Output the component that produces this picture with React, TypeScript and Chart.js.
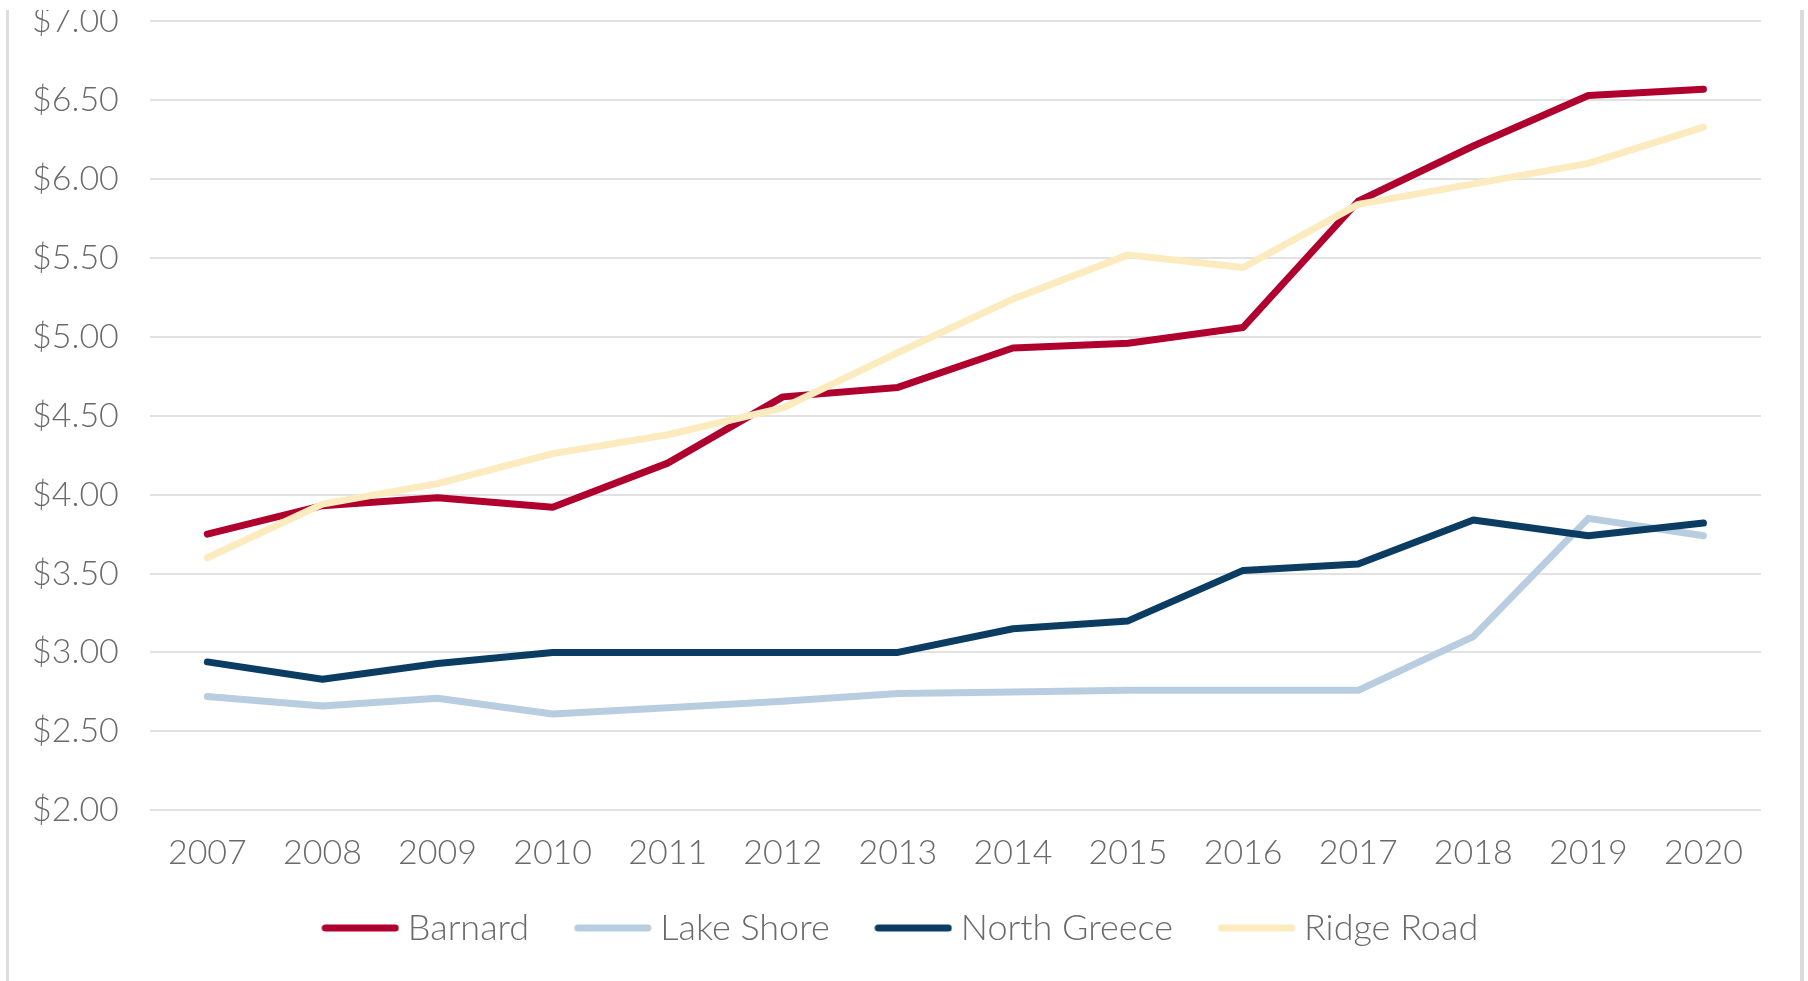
import React, { useEffect, useRef } from "react";
import { Chart, registerables } from "chart.js";

Chart.register(...registerables);

const years = ["2007", "2008", "2009", "2010", "2011", "2012", "2013", "2014", "2015", "2016", "2017", "2018", "2019", "2020"];
const barnard = [3.75, 3.93, 3.98, 3.92, 4.2, 4.62, 4.68, 4.93, 4.96, 5.06, 5.86, 6.21, 6.53, 6.57];
const lakeShore = [2.72, 2.66, 2.71, 2.61, 2.65, 2.69, 2.74, 2.75, 2.76, 2.76, 2.76, 3.1, 3.85, 3.74];
const northGreece = [2.94, 2.83, 2.93, 3.0, 3.0, 3.0, 3.0, 3.15, 3.2, 3.52, 3.56, 3.84, 3.74, 3.82];
const ridgeRoad = [3.6, 3.94, 4.07, 4.26, 4.38, 4.55, 4.9, 5.24, 5.52, 5.44, 5.84, 5.97, 6.1, 6.33];

const seriesNames = ["Barnard", "Lake Shore", "North Greece", "Ridge Road"];
const seriesColors = ["#B0002E", "#B9CDE1", "#0B3C62", "#FCEBBE"];
const seriesValues = [barnard, lakeShore, northGreece, ridgeRoad];

const TEXT = "#6a6a6a";
const FONT = "Lato";
const LEGEND_GAP = "\u00a0\u00a0\u00a0\u00a0";

function makeSample(color: string) {
  const c = document.createElement("canvas");
  c.width = 78;
  c.height = 8;
  const ctx = c.getContext("2d")!;
  ctx.strokeStyle = color;
  ctx.lineWidth = 7;
  ctx.lineCap = "round";
  ctx.beginPath();
  ctx.moveTo(4, 4);
  ctx.lineTo(74, 4);
  ctx.stroke();
  return c;
}

export default function App() {
  const ref = useRef<HTMLCanvasElement | null>(null);

  useEffect(() => {
    if (!ref.current) return;
    const samples = seriesColors.map(makeSample);
    const chart = new Chart(ref.current, {
      type: "line",
      data: {
        labels: years,
        datasets: seriesNames.map((name, i) => ({
          label: name,
          data: seriesValues[i],
          borderColor: seriesColors[i],
          backgroundColor: seriesColors[i],
          borderWidth: 7,
          pointRadius: 0,
          tension: 0,
          fill: false,
          borderCapStyle: "round" as const,
          borderJoinStyle: "round" as const,
          order: seriesNames.length - 1 - i,
        })),
      },
      options: {
        animation: false,
        responsive: true,
        maintainAspectRatio: false,
        layout: { padding: { left: 1, right: 0, top: 0, bottom: 20 } },
        scales: {
          x: {
            offset: true,
            grid: { display: false, drawTicks: false },
            border: { display: false },
            ticks: {
              color: TEXT,
              font: { family: FONT, size: 34, weight: 300 },
              padding: 22,
              maxRotation: 0,
            },
          },
          y: {
            min: 2,
            max: 7,
            grid: { color: "#e2e2e2", lineWidth: 2, drawTicks: false },
            border: { display: false },
            ticks: {
              stepSize: 0.5,
              color: TEXT,
              font: { family: FONT, size: 34, weight: 300 },
              padding: 31,
              callback: (v: any) => "$" + Number(v).toFixed(2),
            },
          },
          yRight: {
            type: "linear",
            position: "right",
            min: 2,
            max: 7,
            grid: { display: false, drawTicks: false },
            border: { display: false },
            ticks: { display: false },
            afterFit: (s: any) => {
              s.width = 47;
            },
          },
        },
        plugins: {
          legend: {
            position: "bottom",
            labels: {
              color: TEXT,
              font: { family: FONT, size: 36, weight: 300 },
              usePointStyle: true,
              pointStyleWidth: 59,
              boxHeight: 8,
              padding: 15,
              sort: (a: any, b: any) => a.datasetIndex - b.datasetIndex,
              generateLabels: (c: any) =>
                Chart.defaults.plugins.legend.labels.generateLabels(c).map((l: any) => ({
                  ...l,
                  text: l.datasetIndex < seriesNames.length - 1 ? l.text + LEGEND_GAP : l.text,
                  lineWidth: 0,
                  pointStyle: samples[l.datasetIndex],
                })),
            },
          },
          tooltip: { enabled: false },
        },
      },
    });
    return () => chart.destroy();
  }, []);

  return (
    <div style={{ position: "absolute", left: 0, top: 0, width: 1808, height: 981, background: "#fff", overflow: "hidden" }}>
      <div style={{ position: "absolute", left: 0, top: -30, width: 1808, height: 1006 }}>
        <canvas ref={ref} />
      </div>
      <div style={{ position: "absolute", left: 0, top: 0, width: 1808, height: 10, background: "#fff" }} />
      <div style={{ position: "absolute", left: 6, top: 10, width: 3, height: 971, background: "#dcdcdc" }} />
      <div style={{ position: "absolute", left: 1800, top: 10, width: 4, height: 971, background: "#dcdcdc" }} />
    </div>
  );
}
